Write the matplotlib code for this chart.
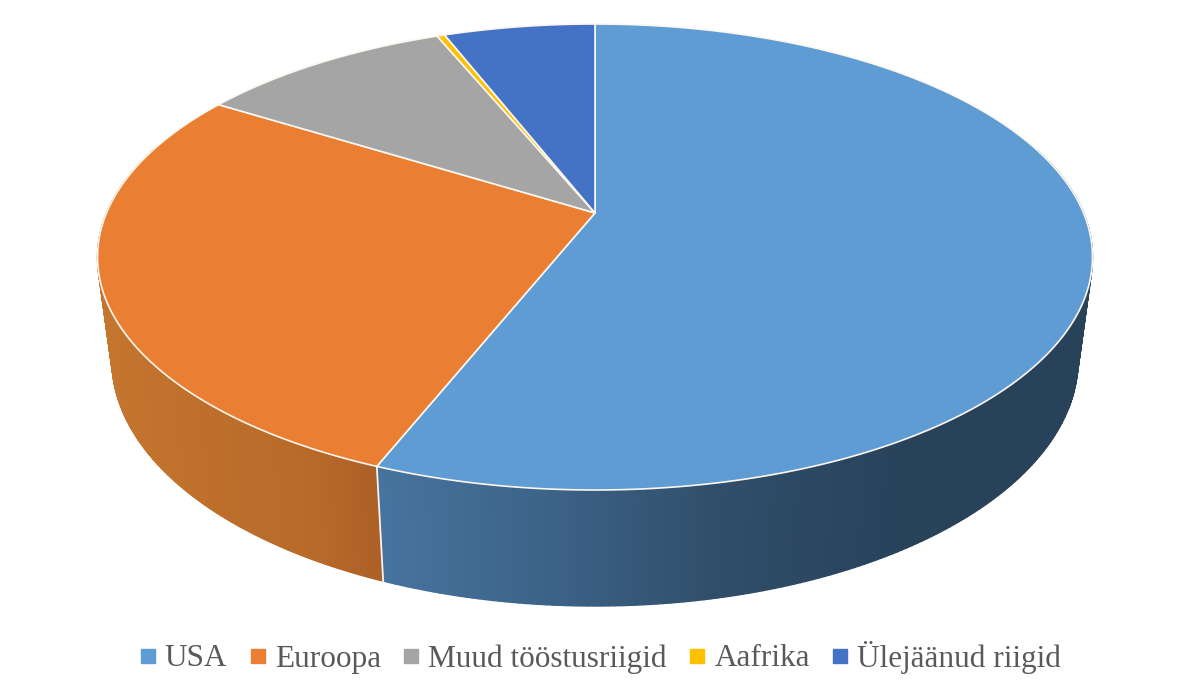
import numpy as np
import matplotlib
matplotlib.use("Agg")
import matplotlib.pyplot as plt
from matplotlib.colors import LinearSegmentedColormap
from matplotlib.lines import Line2D
from matplotlib.patches import Polygon

# osakaalud, %
labels = ["USA", "Euroopa", "Muud tööstusriigid", "Aafrika", "Ülejäänud riigid"]
values = [56.0, 27.9, 9.9, 0.3, 5.9]
colors = ["#5e9cd3", "#ea7f33", "#a5a5a5", "#ffc000", "#4472c4"]

# kylgseina varvid vasakult paremale
wall_colors = {
    0: ["#47749f", "#3c6286", "#2f4d69", "#28425a", "#28425a"],
    1: ["#c4752e", "#c0712c", "#bb6d2b", "#b86a2a", "#ab5f26"],
}

# ellipsid pikslites
cx = 595
top_cy, top_rx, top_ry = 257, 497.5, 233
bot_cy, bot_rx, bot_ry = 360, 483, 246
tilt = 0.189  # perspektiiv: tipp ei ole ellipsi keskel


def project(theta, cy, rx, ry):
    u, v = np.sin(theta), np.cos(theta)
    d = 1 + tilt * v
    x = u * np.sqrt(1 - tilt ** 2) / d
    y = (v + tilt) / d
    return cx + rx * x, cy - ry * y


fig = plt.figure(figsize=(12, 6.9), dpi=100)
ax = fig.add_axes([0, 0, 1, 1])
ax.set_xlim(0, 1200)
ax.set_ylim(690, 0)
ax.axis("off")

edges = np.cumsum([0] + values) / sum(values) * 2 * np.pi

# esmalt kylgsein
for i in wall_colors:
    cmap = LinearSegmentedColormap.from_list("wall%d" % i, wall_colors[i])
    th = np.linspace(edges[i], edges[i + 1], 300)
    xt, yt = project(th, top_cy, top_rx, top_ry)
    xb, yb = project(th, bot_cy, bot_rx, bot_ry)
    x0, x1 = min(xt.min(), xb.min()), max(xt.max(), xb.max())
    for k in range(len(th) - 1):
        # ainult esimene pool on nahtav
        if np.cos(th[k]) > 0.3:
            continue
        col = cmap((xt[k] - x0) / (x1 - x0))
        ax.add_patch(Polygon([(xt[k], yt[k]), (xt[k + 1], yt[k + 1]),
                              (xb[k + 1], yb[k + 1]), (xb[k], yb[k])],
                             facecolor=col, edgecolor=col, lw=1.0, zorder=2))

# valge joon seinte vahel
xa, ya = project(edges[1], top_cy, top_rx, top_ry)
xc, yc = project(edges[1], bot_cy, bot_rx, bot_ry)
ax.plot([xa, xc], [ya, yc], color="#f4f4f4", lw=1.3, zorder=3)

# pealmine pind
apex = (cx, top_cy - top_ry * tilt)
for i in range(len(values)):
    th = np.linspace(edges[i], edges[i + 1], 300)
    xs, ys = project(th, top_cy, top_rx, top_ry)
    pts = np.vstack([[apex], np.column_stack([xs, ys])])
    ax.add_patch(Polygon(pts, closed=True, facecolor=colors[i], edgecolor="#fbf7f0",
                         lw=1.2, joinstyle="round", zorder=4))

handles = [Line2D([], [], linestyle="none", marker="s", markersize=10.5,
                  markerfacecolor=c, markeredgecolor=c) for c in colors]
ax.legend(handles, labels, loc="center", bbox_to_anchor=(599 / 1200, 1 - 657 / 690),
          ncol=5, frameon=False, handlelength=0.7, handletextpad=0.2, columnspacing=0.62,
          borderpad=0, labelcolor="#595959",
          prop={"family": ["Liberation Serif", "DejaVu Serif"], "size": 22.5})

fig.savefig("out.png", dpi=100)
